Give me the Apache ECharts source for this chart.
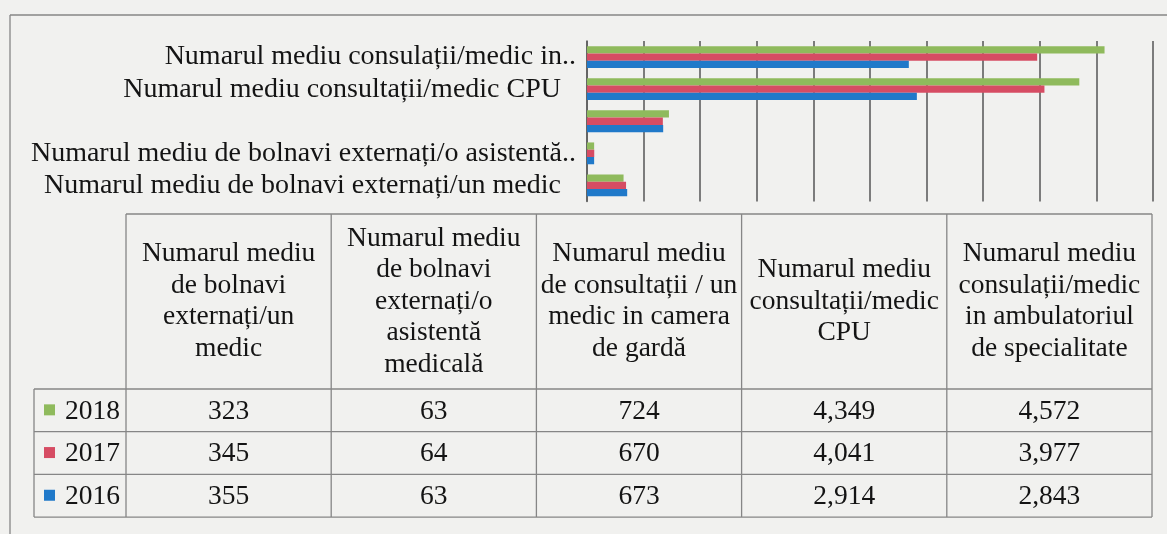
<!DOCTYPE html>
<html>
<head>
<meta charset="utf-8">
<script src="https://cdn.jsdelivr.net/npm/echarts@6/dist/echarts.min.js"></script>
<style>
  html, body { margin: 0; padding: 0; background: #f1f1ef; }
  #chart { width: 1167px; height: 534px; }
</style>
</head>
<body>
<div id="chart"></div>
<script>
// date, de jos in sus pe axa categoriilor = de la stanga la dreapta in tabel
var categories = [
    'Numarul mediu\nde bolnavi\nexternați/un\nmedic',
    'Numarul mediu\nde bolnavi\nexternați/o\nasistentă\nmedicală',
    'Numarul mediu\nde consultații / un\nmedic in camera\nde gardă',
    'Numarul mediu\nconsultații/medic\nCPU',
    'Numarul mediu\nconsulații/medic\nin ambulatoriul\nde specialitate'
];
var axisLabels = [
    'Numarul mediu de bolnavi externați/un medic',
    'Numarul mediu de bolnavi externați/o asistentă..',
    '',
    'Numarul mediu consultații/medic CPU',
    'Numarul mediu consulații/medic in..'
];
var years = ['2018', '2017', '2016'];
var v2018 = [323, 63, 724, 4349, 4572];
var v2017 = [345, 64, 670, 4041, 3977];
var v2016 = [355, 63, 673, 2914, 2843];
var values = [v2018, v2017, v2016];
var colors = ['#8fba5c', '#d64c63', '#2079c9'];

var FONT = '"Liberation Serif", "Times New Roman", serif';
var lineCol = '#868686';
var textCol = '#141414';

// ---------- tabelul de date (desenat cu graphic) ----------
var tabLeft = 34, colLeft = 126, tabRight = 1152;
var headTop = 214, headBottom = 389, rowH = 42.7;
var colW = (tabRight - colLeft) / categories.length;

function hline(x1, x2, y) {
    return { type: 'line', shape: { x1: x1, y1: y, x2: x2, y2: y }, style: { stroke: lineCol, lineWidth: 1.3 } };
}
function vline(x, y1, y2) {
    return { type: 'line', shape: { x1: x, y1: y1, x2: x, y2: y2 }, style: { stroke: lineCol, lineWidth: 1.3 } };
}
function txt(s, x, y, align) {
    return {
        type: 'text', x: x, y: y,
        style: {
            text: s, fill: textCol, font: '27.5px ' + FONT, lineHeight: 31.5,
            align: align || 'center', verticalAlign: 'middle'
        }
    };
}

var els = [];
// chenarul graficului
els.push(hline(10, 1167, 15));
els.push(vline(10, 15, 534));

var tabBottom = headBottom + rowH * years.length;
els.push(hline(colLeft, tabRight, headTop));
els.push(hline(tabLeft, tabRight, headBottom));
for (var r = 1; r <= years.length; r++) {
    els.push(hline(tabLeft, tabRight, headBottom + rowH * r));
}
els.push(vline(tabLeft, headBottom, tabBottom));
for (var c = 0; c <= categories.length; c++) {
    els.push(vline(colLeft + colW * c, headTop, tabBottom));
}
categories.forEach(function (name, i) {
    els.push(txt(name, colLeft + colW * (i + 0.5), (headTop + headBottom) / 2));
});
years.forEach(function (y, r) {
    var cy = headBottom + rowH * (r + 0.5);
    els.push({ type: 'rect', shape: { x: 44, y: cy - 6, width: 11, height: 11 }, style: { fill: colors[r] } });
    els.push(txt(y, 120, cy + 1, 'right'));
    values[r].forEach(function (v, i) {
        els.push(txt(v.toLocaleString('en-US'), colLeft + colW * (i + 0.5), cy + 1));
    });
});

// ---------- graficul ----------
var chart = echarts.init(document.getElementById('chart'));
var option = {
    animation: false,
    grid: { left: 587, top: 41, width: 566, height: 160.5, outerBoundsMode: 'none' },
    xAxis: {
        type: 'value', min: 0, max: 5000, interval: 500,
        axisLine: { show: false }, axisTick: { show: false }, axisLabel: { show: false },
        splitLine: { show: true, lineStyle: { color: '#5f5f5f', width: 1.6 } }
    },
    yAxis: {
        type: 'category',
        data: axisLabels,
        axisLine: { show: true, lineStyle: { color: '#5f5f5f', width: 1.6 } },
        axisTick: { show: false },
        axisLabel: {
            interval: 0, margin: 11,
            formatter: function (s) {
                return /\.\.$/.test(s) ? '{a|' + s + '}' : '{b|' + s + '}';
            },
            rich: {
                a: { fontFamily: FONT, fontSize: 28, color: textCol },
                b: { fontFamily: FONT, fontSize: 28, color: textCol, padding: [0, 15, 0, 0] }
            }
        }
    },
    series: years.map(function (y, r) {
        return {
            name: y, type: 'bar', data: values[r],
            barGap: '0%', barCategoryGap: '32%',
            itemStyle: { color: colors[r] }
        };
    }),
    graphic: { elements: els }
};
chart.setOption(option);
</script>
</body>
</html>
